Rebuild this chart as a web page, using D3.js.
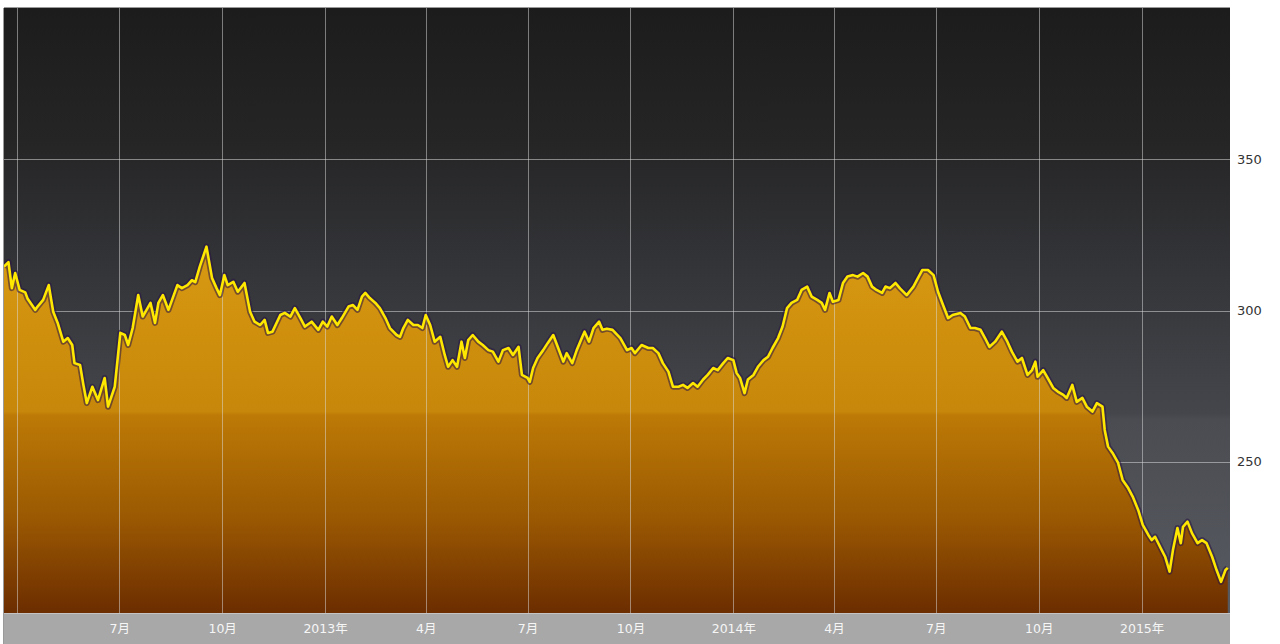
<!DOCTYPE html>
<html>
<head>
<meta charset="utf-8">
<script src="https://cdn.jsdelivr.net/npm/d3@7/dist/d3.min.js"></script>
<style>
  html, body { margin: 0; padding: 0; background: #ffffff; }
  svg { display: block; }
</style>
</head>
<body>
<svg id="chart" width="1280" height="644"></svg>
<script>
// Closing prices, March 2012 – March 2015
const dates = [
  "2012-03-20","2012-03-24","2012-03-27","2012-03-30","2012-04-03","2012-04-08","2012-04-10","2012-04-14","2012-04-17","2012-04-19",
  "2012-04-24","2012-04-29","2012-05-03","2012-05-07","2012-05-12","2012-05-16","2012-05-20","2012-05-22","2012-05-27","2012-05-30",
  "2012-06-02","2012-06-07","2012-06-12","2012-06-18","2012-06-21","2012-06-27","2012-07-02","2012-07-06","2012-07-09","2012-07-13",
  "2012-07-18","2012-07-22","2012-07-29","2012-08-02","2012-08-05","2012-08-09","2012-08-14","2012-08-22","2012-08-26","2012-08-31",
  "2012-09-04","2012-09-07","2012-09-11","2012-09-17","2012-09-22","2012-09-26","2012-09-29","2012-10-03","2012-10-06","2012-10-11",
  "2012-10-15","2012-10-21","2012-10-26","2012-10-30","2012-11-04","2012-11-08","2012-11-11","2012-11-15","2012-11-22","2012-11-26",
  "2012-12-01","2012-12-05","2012-12-10","2012-12-14","2012-12-20","2012-12-26","2012-12-30","2013-01-03","2013-01-07","2013-01-12",
  "2013-01-16","2013-01-22","2013-01-26","2013-01-30","2013-02-03","2013-02-06","2013-02-10","2013-02-15","2013-02-19","2013-02-24",
  "2013-02-28","2013-03-06","2013-03-09","2013-03-12","2013-03-16","2013-03-21","2013-03-25","2013-03-29","2013-04-01","2013-04-05",
  "2013-04-09","2013-04-14","2013-04-18","2013-04-21","2013-04-25","2013-04-29","2013-05-03","2013-05-06","2013-05-09","2013-05-13",
  "2013-05-18","2013-05-22","2013-05-27","2013-05-31","2013-06-05","2013-06-09","2013-06-14","2013-06-18","2013-06-23","2013-06-26",
  "2013-07-01","2013-07-03","2013-07-06","2013-07-10","2013-07-15","2013-07-19","2013-07-24","2013-07-28","2013-08-02","2013-08-05",
  "2013-08-10","2013-08-14","2013-08-19","2013-08-21","2013-08-25","2013-08-29","2013-09-03","2013-09-06","2013-09-10","2013-09-15",
  "2013-09-22","2013-09-28","2013-10-02","2013-10-05","2013-10-11","2013-10-17","2013-10-21","2013-10-26","2013-10-30","2013-11-04",
  "2013-11-08","2013-11-13","2013-11-17","2013-11-21","2013-11-26","2013-11-30","2013-12-05","2013-12-09","2013-12-14","2013-12-18",
  "2013-12-23","2013-12-27","2014-01-01","2014-01-04","2014-01-07","2014-01-11","2014-01-14","2014-01-19","2014-01-23","2014-01-28",
  "2014-02-01","2014-02-05","2014-02-10","2014-02-14","2014-02-18","2014-02-22","2014-02-27","2014-03-03","2014-03-08","2014-03-12",
  "2014-03-17","2014-03-21","2014-03-24","2014-03-28","2014-03-31","2014-04-05","2014-04-09","2014-04-13","2014-04-18","2014-04-22",
  "2014-04-27","2014-05-01","2014-05-05","2014-05-09","2014-05-14","2014-05-17","2014-05-21","2014-05-26","2014-05-30","2014-06-05",
  "2014-06-11","2014-06-15","2014-06-19","2014-06-24","2014-06-29","2014-07-03","2014-07-08","2014-07-12","2014-07-16","2014-07-23",
  "2014-07-27","2014-08-01","2014-08-05","2014-08-10","2014-08-14","2014-08-18","2014-08-23","2014-08-29","2014-09-03","2014-09-07",
  "2014-09-12","2014-09-16","2014-09-21","2014-09-25","2014-09-28","2014-09-30","2014-10-05","2014-10-09","2014-10-14","2014-10-18",
  "2014-10-23","2014-10-26","2014-10-31","2014-11-04","2014-11-09","2014-11-13","2014-11-18","2014-11-22","2014-11-27","2014-11-29",
  "2014-12-02","2014-12-06","2014-12-11","2014-12-15","2014-12-20","2014-12-24","2014-12-29","2015-01-02","2015-01-07","2015-01-10",
  "2015-01-13","2015-01-18","2015-01-22","2015-01-26","2015-01-29","2015-02-02","2015-02-05","2015-02-07","2015-02-11","2015-02-15",
  "2015-02-20","2015-02-24","2015-02-28","2015-03-05","2015-03-09","2015-03-13","2015-03-17","2015-03-19"
];
const prices = [
  314.5,316.0,307.4,312.4,306.8,306.0,304.0,301.8,300.2,301.3,
  303.5,308.4,299.6,295.9,289.7,290.9,288.6,282.6,282.0,275.4,
  269.4,274.8,270.4,277.7,268.2,274.8,292.6,291.9,288.6,294.2,
  305.1,298.0,302.5,295.9,302.5,305.1,300.2,308.4,307.4,308.4,
  310.0,309.4,314.5,321.1,310.7,307.4,305.1,311.7,308.4,309.5,
  306.2,309.1,299.6,296.3,295.2,296.9,292.6,293.0,298.5,299.2,
  298.0,300.8,297.5,294.7,296.3,293.6,296.3,294.7,298.0,295.2,
  297.5,301.3,301.8,300.2,304.6,305.8,304.1,302.5,300.8,297.5,
  294.2,291.9,291.3,294.2,296.9,295.2,295.2,294.2,298.5,295.2,
  289.7,291.3,285.3,281.4,283.6,281.4,289.7,284.3,290.2,291.9,
  289.7,288.6,286.9,286.4,283.1,286.9,287.6,285.3,288.0,278.7,
  277.7,276.4,281.0,284.3,286.9,289.2,291.9,288.0,283.1,285.9,
  282.6,286.9,291.3,293.0,289.7,294.2,296.3,293.6,294.0,293.6,
  290.9,286.9,287.6,285.9,288.6,287.6,287.6,285.9,282.6,279.8,
  274.8,274.8,275.4,274.4,276.0,274.8,277.2,278.7,281.0,280.3,
  282.6,284.3,283.6,279.3,277.7,272.7,277.2,278.7,281.4,283.6,
  284.7,287.6,290.9,294.7,300.8,302.5,303.5,306.8,307.9,304.6,
  303.5,302.5,300.2,305.8,302.9,303.5,309.1,311.2,311.7,311.2,
  312.4,311.2,307.9,306.8,305.8,307.9,307.4,309.1,307.3,305.1,
  307.9,310.7,313.4,313.4,311.7,306.2,301.3,297.5,298.5,299.2,
  298.0,294.2,294.2,293.6,290.9,288.0,289.7,293.0,289.7,286.4,
  283.1,284.3,278.7,280.3,283.1,278.1,280.3,277.7,274.4,273.2,
  272.1,271.1,275.4,269.8,271.1,268.2,266.6,269.4,268.2,260.5,
  255.0,252.9,249.6,244.0,241.3,238.5,234.0,229.1,225.8,224.1,
  225.2,221.5,218.6,213.7,220.8,228.1,223.1,228.5,230.2,226.4,
  223.1,224.1,223.1,218.6,214.2,210.3,214.2,214.9
];

// Quarterly grid dates and their axis labels (first one is unlabeled)
const gridDates = ["2012-04-01","2012-07-01","2012-10-01","2013-01-01","2013-04-01","2013-07-01",
                   "2013-10-01","2014-01-01","2014-04-01","2014-07-01","2014-10-01","2015-01-01"];
const gridLabels = ["","7月","10月","2013年","4月","7月","10月","2014年","4月","7月","10月","2015年"];
const yTicks = [250, 300, 350];
const xDomain = ["2012-03-20", "2015-03-21"];
const yDomain = [200, 400];

const parse = d3.timeParse("%Y-%m-%d");
const series = dates.map((d, i) => ({ date: parse(d), value: prices[i] }));

const plot = { left: 4, right: 1230, top: 8, bottom: 613 };
const svg = d3.select("#chart");

const x = d3.scaleTime().domain(xDomain.map(parse)).range([plot.left, plot.right]);
const y = d3.scaleLinear().domain(yDomain).range([plot.bottom, plot.top]);

const defs = svg.append("defs");

// Dark backdrop fading to slate grey near the bottom
const bg = defs.append("linearGradient").attr("id", "bgGrad")
  .attr("gradientUnits", "userSpaceOnUse")
  .attr("x1", 0).attr("x2", 0).attr("y1", plot.top).attr("y2", plot.bottom);
[[0, "#1c1c1c"], [0.22, "#252526"], [0.45, "#35363a"], [0.67, "#44464b"], [0.68, "#4a4c51"], [1, "#575a61"]]
  .forEach(([o, c]) => bg.append("stop").attr("offset", o).attr("stop-color", c));

// Golden fill deepening to brown
const ag = defs.append("linearGradient").attr("id", "areaGrad")
  .attr("gradientUnits", "userSpaceOnUse")
  .attr("x1", 0).attr("x2", 0).attr("y1", 240).attr("y2", plot.bottom);
[[0, "#d99a12"], [0.46, "#c7870a"], [0.47, "#bd7a06"], [0.75, "#9a5802"], [1, "#6c2d00"]]
  .forEach(([o, c]) => ag.append("stop").attr("offset", o).attr("stop-color", c));

defs.append("clipPath").attr("id", "plotClip").append("rect")
  .attr("x", plot.left).attr("y", plot.top)
  .attr("width", plot.right - plot.left).attr("height", plot.bottom - plot.top);

// Background
svg.append("rect")
  .attr("x", plot.left).attr("y", plot.top)
  .attr("width", plot.right - plot.left).attr("height", plot.bottom - plot.top)
  .attr("fill", "url(#bgGrad)");

const g = svg.append("g").attr("clip-path", "url(#plotClip)");

// Horizontal grid lines (hidden behind the filled area)
g.append("g").selectAll("line").data(yTicks).join("line")
  .attr("x1", plot.left).attr("x2", plot.right)
  .attr("y1", d => Math.round(y(d)) + 0.5).attr("y2", d => Math.round(y(d)) + 0.5)
  .attr("stroke", "rgba(215,215,215,0.55)").attr("stroke-width", 1);

// Filled area
const area = d3.area().x(d => x(d.date)).y0(plot.bottom).y1(d => y(d.value));
g.append("path").datum(series).attr("d", area).attr("fill", "url(#areaGrad)");

// Vertical grid lines over everything but the line
g.append("g").selectAll("line").data(gridDates).join("line")
  .attr("x1", d => Math.round(x(parse(d))) + 0.5).attr("x2", d => Math.round(x(parse(d))) + 0.5)
  .attr("y1", plot.top).attr("y2", plot.bottom)
  .attr("stroke", "rgba(220,220,220,0.5)").attr("stroke-width", 1);

// Price line with a soft dark halo
const line = d3.line().x(d => x(d.date)).y(d => y(d.value));
g.append("path").datum(series).attr("d", line)
  .attr("fill", "none").attr("stroke", "rgba(40,20,70,0.55)")
  .attr("stroke-width", 6).attr("stroke-linejoin", "round");
g.append("path").datum(series).attr("d", line)
  .attr("fill", "none").attr("stroke", "#ffe800")
  .attr("stroke-width", 2.6).attr("stroke-linejoin", "round");

// Frame edges (top and left)
svg.append("line").attr("x1", plot.left).attr("x2", plot.right)
  .attr("y1", plot.top - 0.5).attr("y2", plot.top - 0.5)
  .attr("stroke", "#9a9a9a").attr("stroke-width", 1);
svg.append("line").attr("x1", plot.left - 0.5).attr("x2", plot.left - 0.5)
  .attr("y1", plot.top).attr("y2", 644)
  .attr("stroke", "#9a9a9a").attr("stroke-width", 1);

// Bottom time axis strip
svg.append("rect")
  .attr("x", plot.left).attr("y", plot.bottom)
  .attr("width", plot.right - plot.left).attr("height", 644 - plot.bottom)
  .attr("fill", "#a8a8a8");
svg.append("line").attr("x1", plot.left).attr("x2", plot.right)
  .attr("y1", plot.bottom + 0.5).attr("y2", plot.bottom + 0.5)
  .attr("stroke", "#c4c4c4");

const xAxis = d3.axisBottom(x)
  .tickValues(gridDates.map(parse))
  .tickSize(0).tickPadding(0)
  .tickFormat((d, i) => gridLabels[i]);
const xa = svg.append("g").attr("transform", `translate(0,${plot.bottom})`).call(xAxis);
xa.select(".domain").remove();
xa.selectAll("text")
  .attr("y", 20)
  .attr("dy", 0)
  .attr("fill", "#f6f6f6")
  .style("font-family", "'DejaVu Sans', 'Noto Sans CJK SC', sans-serif")
  .style("font-size", "12.5px");

// Right value axis
const yAxis = d3.axisRight(y).tickValues(yTicks).tickSize(0).tickPadding(0);
const ya = svg.append("g").attr("transform", `translate(${plot.right + 7},0)`).call(yAxis);
ya.select(".domain").remove();
ya.selectAll("text")
  .attr("fill", "#333333")
  .style("font-family", "'DejaVu Sans', sans-serif")
  .style("font-size", "13px");
</script>
</body>
</html>
